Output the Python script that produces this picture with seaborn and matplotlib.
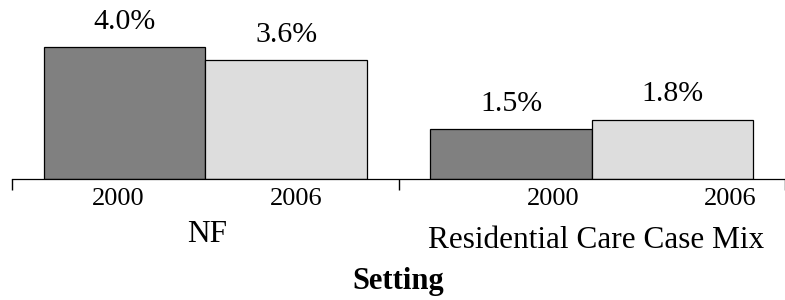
import numpy as np
import pandas as pd
import matplotlib
matplotlib.use("Agg")
import matplotlib.pyplot as plt
import seaborn as sns

# Datos
settings = ["NF", "Residential Care Case Mix"]
years = ["2000", "2006"]
nf_values = [4.0, 3.6]
rc_values = [1.5, 1.8]

df = pd.DataFrame({
    "Setting": [settings[0]] * 2 + [settings[1]] * 2,
    "Year": years + years,
    "Value": nf_values + rc_values,
})

sns.set_theme(style="white", rc={"text.color": "black", "axes.labelcolor": "black",
                                 "xtick.color": "black"})
plt.rcParams["font.family"] = ["Liberation Serif", "DejaVu Serif"]

fig = plt.figure(figsize=(7.85, 3.0), dpi=100)
ax = fig.add_axes([12 / 785, 121 / 300, 773 / 785, 179 / 300])

sns.barplot(data=df, x="Setting", y="Value", hue="Year", order=settings,
            hue_order=years, palette=["#808080", "#dddddd"], width=0.836,
            edgecolor="black", linewidth=0.9, saturation=1, ax=ax)
ax.legend_.remove()

ax.set_xlim(-0.5, 1.46)
ax.set_ylim(0, 5.42)

# etiquetas de valores sobre las barras
for cont in ax.containers:
    for bar in cont:
        h = bar.get_height()
        ax.annotate(f"{h:.1f}%", (bar.get_x() + bar.get_width() / 2, h),
                    xytext=(0, 13), textcoords="offset points",
                    ha="center", va="baseline", fontsize=21.5, color="black")

# eje x: ticks entre grupos
ax.set_xticks([-0.5, 0.5, 1.5])
ax.set_xticklabels([])
ax.tick_params(axis="x", direction="out", length=8, width=1.0, color="black",
               bottom=True)
ax.set_yticks([])
ax.set_xlabel("")
ax.set_ylabel("")
for s in ["top", "left", "right"]:
    ax.spines[s].set_visible(False)
ax.spines["bottom"].set_color("black")
ax.spines["bottom"].set_linewidth(0.9)

# etiquetas de año y de grupo (eje multinivel)
year_pos = [-0.226, 0.234, 0.901, 1.359]
for xp, yr in zip(year_pos, years + years):
    ax.annotate(yr, (xp, 0), xycoords=("data", "axes fraction"),
                xytext=(0, -19), textcoords="offset points",
                ha="center", va="baseline", fontsize=19, color="black")

group_pos = [0.006, 1.011]
group_off = [-45.5, -49.5]
for xp, off, name in zip(group_pos, group_off, settings):
    ax.annotate(name, (xp, 0), xycoords=("data", "axes fraction"),
                xytext=(0, off), textcoords="offset points",
                ha="center", va="baseline", fontsize=22.5, color="black")

ax.annotate("Setting", (0.5, 0), xycoords=("data", "axes fraction"),
            xytext=(0, -79), textcoords="offset points",
            ha="center", va="baseline", fontsize=22, fontweight="bold",
            color="black")

fig.savefig("out.png", dpi=100)
